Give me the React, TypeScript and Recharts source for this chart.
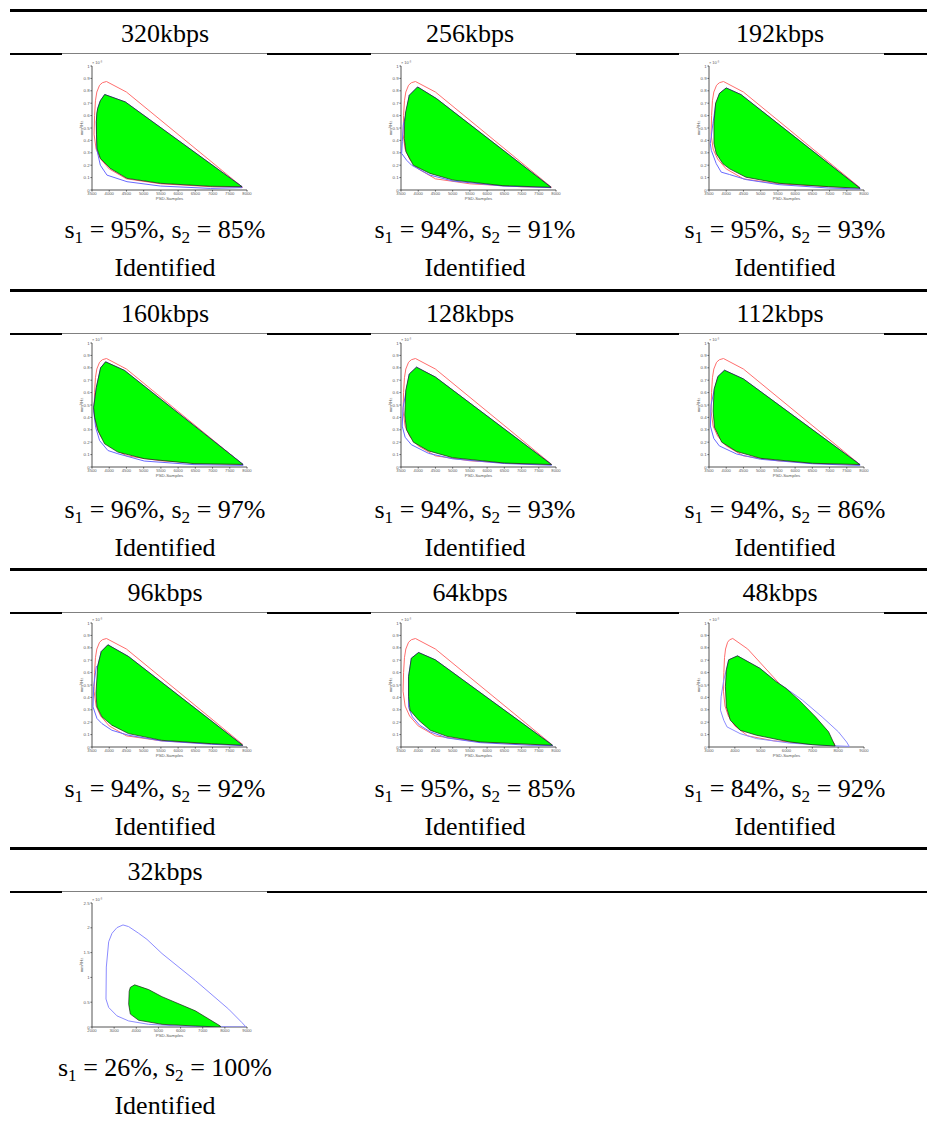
import React from "react";
import { ScatterChart, Scatter, XAxis, YAxis, Label } from "recharts";

type Pt = [number, number];

const titles = ["320kbps", "256kbps", "192kbps", "160kbps", "128kbps", "112kbps", "96kbps", "64kbps", "48kbps", "32kbps"];
const s1Values = [95, 94, 95, 96, 94, 94, 94, 95, 84, 26];
const s2Values = [85, 91, 93, 97, 93, 86, 92, 85, 92, 100];
const verdicts = ["Identified", "Identified", "Identified", "Identified", "Identified", "Identified", "Identified", "Identified", "Identified", "Identified"];

const xTicksMain = [3500, 4000, 4500, 5000, 5500, 6000, 6500, 7000, 7500, 8000];
const xTicks48 = [3000, 4000, 5000, 6000, 7000, 8000, 9000];
const xTicks32 = [2000, 3000, 4000, 5000, 6000, 7000, 8000, 9000];
const yTicksMain = [0, 0.1, 0.2, 0.3, 0.4, 0.5, 0.6, 0.7, 0.8, 0.9, 1];
const yTicks32 = [0, 0.5, 1, 1.5, 2, 2.5];

// reference outline (red), same in every panel
const redOutline: Pt[] = [[3560, 0.45], [3575, 0.6], [3600, 0.72], [3640, 0.79], [3720, 0.845], [3800, 0.865], [3920, 0.875], [4500, 0.79], [7870, 0.022], [7000, 0.026], [5500, 0.05], [4500, 0.09], [4000, 0.17], [3750, 0.25], [3620, 0.33], [3560, 0.45]];

const green320: Pt[] = [[3645, 0.335], [3630, 0.45], [3626, 0.55], [3640, 0.62], [3665, 0.657], [3742, 0.72], [3868, 0.77], [4468, 0.71], [7855, 0.027], [6935, 0.03], [5484, 0.054], [4516, 0.094], [4032, 0.174], [3742, 0.255], [3645, 0.335]];
const blue320: Pt[] = [[3645, 0.32], [3626, 0.55], [3665, 0.657], [3742, 0.72], [3868, 0.77], [4468, 0.71], [7855, 0.027], [7855, 0.019], [6935, 0.013], [5484, 0.032], [4516, 0.067], [3935, 0.12], [3742, 0.2], [3645, 0.32]];

const green256: Pt[] = [[3645, 0.308], [3596, 0.416], [3605, 0.55], [3635, 0.63], [3741, 0.764], [3982, 0.831], [4531, 0.737], [7855, 0.022], [6458, 0.035], [5013, 0.08], [4338, 0.134], [3857, 0.2], [3645, 0.308]];
const blue256: Pt[] = [[3645, 0.617], [3567, 0.523], [3538, 0.389], [3519, 0.295], [3664, 0.24], [3808, 0.2], [4338, 0.12], [5013, 0.072], [6458, 0.032], [7855, 0.019], [7855, 0.022], [4531, 0.737], [3982, 0.831], [3741, 0.764], [3645, 0.617]];

const green192: Pt[] = [[3711, 0.293], [3644, 0.375], [3644, 0.54], [3692, 0.7], [3807, 0.78], [3999, 0.823], [4431, 0.769], [7885, 0.014], [6973, 0.027], [5534, 0.054], [4575, 0.103], [4095, 0.171], [3903, 0.212], [3711, 0.293]];
const blue192: Pt[] = [[3692, 0.687], [3615, 0.538], [3538, 0.375], [3567, 0.32], [3711, 0.212], [3855, 0.144], [4095, 0.125], [4575, 0.084], [5534, 0.043], [6973, 0.016], [7885, 0.008], [7885, 0.014], [4431, 0.769], [3999, 0.823], [3807, 0.78], [3692, 0.687]];

const green160: Pt[] = [[3673, 0.293], [3577, 0.4], [3548, 0.48], [3625, 0.64], [3750, 0.8], [3894, 0.848], [4442, 0.779], [7885, 0.021], [6462, 0.027], [5019, 0.067], [4250, 0.12], [3865, 0.187], [3673, 0.293]];
const blue160: Pt[] = [[3548, 0.453], [3606, 0.32], [3721, 0.213], [3962, 0.133], [4250, 0.107], [5019, 0.048], [6462, 0.019], [7885, 0.013], [7885, 0.021], [4442, 0.779], [3894, 0.848], [3750, 0.8], [3625, 0.64], [3548, 0.48]];

const green128: Pt[] = [[3660, 0.3], [3610, 0.42], [3640, 0.62], [3740, 0.75], [3950, 0.805], [4500, 0.725], [7870, 0.02], [6500, 0.032], [5000, 0.075], [4300, 0.13], [3860, 0.2], [3660, 0.3]];
const blue128: Pt[] = [[3640, 0.6], [3560, 0.48], [3535, 0.33], [3620, 0.24], [3800, 0.18], [4300, 0.11], [5000, 0.066], [6500, 0.028], [7870, 0.014], [7870, 0.02], [4500, 0.725], [3950, 0.805], [3740, 0.75], [3640, 0.6]];

const green112: Pt[] = [[3660, 0.32], [3620, 0.45], [3650, 0.63], [3760, 0.73], [3950, 0.78], [4500, 0.71], [7880, 0.02], [6500, 0.03], [5000, 0.07], [4300, 0.125], [3870, 0.2], [3660, 0.32]];
const blue112: Pt[] = [[3650, 0.62], [3560, 0.5], [3540, 0.33], [3640, 0.23], [3800, 0.17], [4300, 0.105], [5000, 0.062], [6500, 0.026], [7880, 0.012], [7880, 0.02], [4500, 0.71], [3950, 0.78], [3760, 0.73], [3650, 0.62]];

const green96: Pt[] = [[3644, 0.324], [3615, 0.432], [3663, 0.649], [3769, 0.77], [3962, 0.824], [4558, 0.73], [7875, 0.014], [6962, 0.027], [5519, 0.054], [4558, 0.108], [4077, 0.176], [3788, 0.243], [3644, 0.324]];
const blue96: Pt[] = [[3625, 0.649], [3548, 0.486], [3529, 0.324], [3644, 0.23], [3788, 0.189], [4077, 0.135], [4558, 0.095], [5519, 0.049], [6962, 0.022], [7875, 0.011], [7875, 0.014], [4558, 0.73], [3962, 0.824], [3769, 0.77], [3663, 0.649]];

const green64: Pt[] = [[3760, 0.297], [3720, 0.405], [3720, 0.568], [3800, 0.716], [4010, 0.762], [4495, 0.703], [4833, 0.635], [7900, 0.014], [7247, 0.022], [5798, 0.041], [4833, 0.086], [4350, 0.135], [4012, 0.216], [3760, 0.297]];
const blue64: Pt[] = [[3720, 0.32], [3830, 0.243], [4040, 0.176], [4350, 0.122], [4833, 0.073], [5798, 0.035], [7247, 0.014], [7900, 0.011], [7900, 0.014], [4833, 0.635], [4495, 0.703], [4010, 0.762], [3800, 0.716], [3720, 0.568], [3720, 0.405], [3720, 0.32]];

const green48: Pt[] = [[3672, 0.324], [3634, 0.486], [3672, 0.622], [3761, 0.703], [4104, 0.735], [4967, 0.635], [5601, 0.527], [5981, 0.473], [6489, 0.378], [7123, 0.243], [7630, 0.122], [7884, 0.008], [6996, 0.019], [6108, 0.041], [4839, 0.095], [4205, 0.135], [3825, 0.216], [3672, 0.324]];
const blue48: Pt[] = [[3571, 0.541], [3672, 0.622], [3761, 0.703], [4104, 0.735], [4967, 0.635], [5601, 0.527], [5981, 0.473], [6616, 0.378], [7377, 0.243], [8010, 0.122], [8328, 0.04], [8429, 0.005], [7377, 0.014], [6108, 0.032], [4839, 0.068], [4205, 0.108], [3698, 0.162], [3571, 0.216], [3444, 0.297], [3469, 0.405], [3571, 0.541]];

const green32: Pt[] = [[3732, 0.26], [3657, 0.46], [3680, 0.72], [3732, 0.8], [3928, 0.85], [4560, 0.754], [5161, 0.611], [6667, 0.326], [7796, 0.02], [7796, 0.0], [6669, 0.02], [5163, 0.054], [4108, 0.136], [3732, 0.26]];
const blue32: Pt[] = [[3400, 2.058], [3129, 2.004], [2903, 1.889], [2753, 1.719], [2647, 1.209], [2632, 0.564], [2753, 0.394], [3129, 0.224], [3656, 0.122], [4559, 0.054], [5914, 0.02], [7419, 0.007], [8955, 0.0], [8774, 0.088], [8172, 0.36], [6667, 0.938], [5161, 1.481], [4484, 1.766], [4108, 1.889], [3656, 2.024], [3400, 2.058]];

const greens = [green320, green256, green192, green160, green128, green112, green96, green64, green48, green32];
const blues = [blue320, blue256, blue192, blue160, blue128, blue112, blue96, blue64, blue48, blue32];

const rowTops = [10, 290, 569, 848];
const plotTops = [66, 343, 623, 903];
const plotLefts = [92, 401, 709];
const titleCenters = [165, 470, 780];
const textCenters = [165, 475, 785];

const toRows = (pts: Pt[]) => pts.map(([x, y]) => ({ x, y }));
const noDot = () => <g />;

const outline = (fill: string, stroke: string, width: number) => (props: any) => {
  const pts: { x: number; y: number }[] = props.points || [];
  if (!pts.length) return <g />;
  const d = pts.map((p, i) => `${i ? "L" : "M"}${p.x},${p.y}`).join(" ") + " Z";
  return <path d={d} fill={fill} stroke={stroke} strokeWidth={width} strokeLinejoin="round" />;
};

const axisGrey = "#555";
const labelGrey = "#5a5a5a";

function Panel({ idx }: { idx: number }) {
  const row = Math.floor(idx / 3);
  const col = idx % 3;
  const rowTop = rowTops[row];
  const plotLeft = plotLefts[col];
  const plotTop = plotTops[row];
  const is48 = idx === 8;
  const is32 = idx === 9;
  const xTicks = is32 ? xTicks32 : is48 ? xTicks48 : xTicksMain;
  const yTicks = is32 ? yTicks32 : yTicksMain;
  const xDomain = [xTicks[0], xTicks[xTicks.length - 1]];
  const yDomain = [0, yTicks[yTicks.length - 1]];
  const blueColor = is48 || is32 ? "#8c8cff" : "#6a6aff";

  const textStyle: React.CSSProperties = {
    position: "absolute",
    width: 300,
    height: 30,
    lineHeight: "30px",
    textAlign: "center",
    whiteSpace: "nowrap",
  };
  const subStyle: React.CSSProperties = { fontSize: "0.66em", verticalAlign: "-0.28em", lineHeight: 0 };

  return (
    <>
      <div style={{ ...textStyle, left: titleCenters[col] - 150, top: rowTop + 24 - 15 }}>{titles[idx]}</div>
      <div
        style={{
          position: "absolute",
          left: plotLeft - 30,
          top: rowTop + 43,
          width: 205,
          height: 150,
          background: "#fff",
          borderTop: "1.5px solid #808080",
        }}
      />
      <div style={{ position: "absolute", left: plotLeft - 30, top: plotTop - 10, fontFamily: '"Liberation Sans", Arial, sans-serif' }}>
        <ScatterChart width={200} height={150} margin={{ top: 10, right: 15, bottom: 8, left: 10 }}>
          <XAxis
            type="number"
            dataKey="x"
            domain={xDomain}
            ticks={xTicks}
            interval={0}
            allowDataOverflow
            height={8}
            stroke={axisGrey}
            tickSize={1.5}
            tickMargin={0.5}
            tick={{ fontSize: 4.2, fill: labelGrey }}
          >
            <Label value="PSD-Samples" position="bottom" offset={-1} fontSize={4.4} fill={labelGrey} />
          </XAxis>
          <YAxis
            type="number"
            dataKey="y"
            domain={yDomain}
            ticks={yTicks}
            interval={0}
            allowDataOverflow
            width={20}
            stroke={axisGrey}
            tickSize={1.5}
            tickMargin={0.8}
            tick={{ fontSize: 4.4, fill: labelGrey }}
          >
            <Label value="mm²/Hz" angle={-90} position="center" dx={0} fontSize={4.2} fill={labelGrey} />
            <Label value="× 10⁻³" position="top" dx={15} offset={2} fontSize={4} fill={labelGrey} />
          </YAxis>
          {!is32 && (
            <Scatter data={toRows(redOutline)} shape={noDot} line={outline("none", "#ff6e6e", 1)} isAnimationActive={false} />
          )}
          <Scatter data={toRows(blues[idx])} shape={noDot} line={outline("none", blueColor, 1)} isAnimationActive={false} />
          <Scatter data={toRows(greens[idx])} shape={noDot} line={outline("#00ff00", "#1c1c1c", 0.7)} isAnimationActive={false} />
        </ScatterChart>
      </div>
      <div style={{ ...textStyle, left: textCenters[col] - 150, top: rowTop + 220 - 15 }}>
        s<sub style={subStyle}>1</sub> = {s1Values[idx]}%, s<sub style={subStyle}>2</sub> = {s2Values[idx]}%
      </div>
      <div style={{ ...textStyle, left: textCenters[col] - 150, top: rowTop + 258 - 15 }}>{verdicts[idx]}</div>
    </>
  );
}

export default function App() {
  return (
    <div
      style={{
        position: "absolute",
        left: 0,
        top: 0,
        width: 927,
        height: 1124,
        background: "#fff",
        overflow: "hidden",
        fontFamily: '"Liberation Serif", "Times New Roman", "DejaVu Serif", serif',
        fontSize: 26,
        color: "#000",
      }}
    >
      {rowTops.map((t) => (
        <React.Fragment key={t}>
          <div style={{ position: "absolute", left: 10, top: t - 1, width: 917, height: 2.5, background: "#000" }} />
          <div style={{ position: "absolute", left: 10, top: t + 43, width: 917, height: 2, background: "#000" }} />
        </React.Fragment>
      ))}
      {titles.map((_, i) => (
        <Panel key={i} idx={i} />
      ))}
    </div>
  );
}
